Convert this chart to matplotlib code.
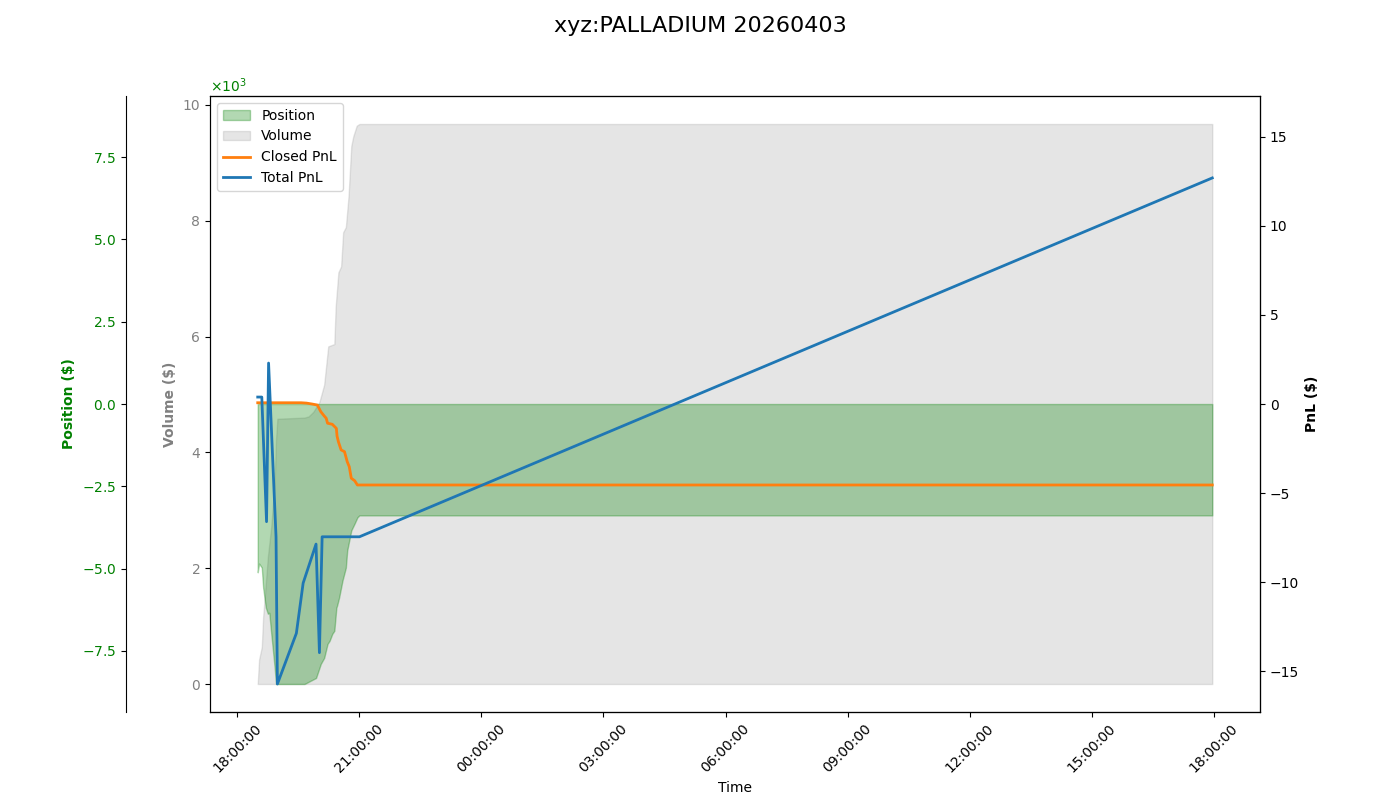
import datetime as dt
import numpy as np
import matplotlib
matplotlib.use('Agg')
import matplotlib.pyplot as plt
import matplotlib.dates as mdates

# series (times are HH:MM, session runs 18:00 -> 18:00)
vol_times = ['18:30', '18:32', '18:36', '18:38', '18:40', '18:45', '18:50',
             '18:55', '18:57', '18:59', '19:39', '19:45', '19:52', '20:01',
             '20:08', '20:14', '20:23', '20:25', '20:29', '20:33', '20:36',
             '20:40', '20:44', '20:48', '20:51', '20:56', '21:00', '17:58']
volume = [0.0, 0.42, 0.64, 1.16, 1.45, 2.20, 2.72, 3.48, 4.22, 4.58, 4.60,
          4.62, 4.70, 4.87, 5.17, 5.83, 5.87, 6.52, 7.11, 7.21, 7.80, 7.89,
          8.43, 9.29, 9.46, 9.64, 9.67, 9.67]

pos_times = ['18:30', '18:32', '18:36', '18:38', '18:42', '18:45', '18:47',
             '18:50', '18:55', '18:57', '19:39', '19:56', '20:03', '20:08',
             '20:13', '20:16', '20:20', '20:23', '20:26', '20:27', '20:30',
             '20:35', '20:40', '20:42', '20:48', '20:53', '20:57', '21:00',
             '17:58']
position = [-5113, -4848, -4970, -5579, -6189, -6372, -6341, -6982, -8018,
            -8506, -8506, -8323, -7896, -7713, -7287, -7195, -6982, -6890,
            -6189, -6130, -5884, -5366, -4970, -4451, -3841, -3628, -3445,
            -3384, -3384]

closed_times = ['18:30', '19:34', '19:42', '19:50', '19:58', '20:03', '20:08',
                '20:11', '20:13', '20:20', '20:26', '20:27', '20:29', '20:33',
                '20:38', '20:42', '20:45', '20:48', '20:53', '20:57', '17:58']
closed_pnl = [0.07, 0.07, 0.05, 0.0, -0.06, -0.43, -0.67, -0.80, -1.08,
              -1.14, -1.37, -1.80, -2.12, -2.58, -2.68, -3.24, -3.52, -4.17,
              -4.31, -4.55, -4.55]

total_times = ['18:30', '18:36', '18:43', '18:46', '18:57', '18:59', '19:27',
               '19:37', '19:56', '20:01', '20:05', '21:00', '17:58']
total_pnl = [0.39, 0.39, -6.61, 2.30, -7.47, -15.73, -12.88, -10.06, -7.87,
             -13.97, -7.46, -7.46, 12.70]


def to_dt(times):
    out = []
    for t in times:
        h, m = map(int, t.split(':'))
        day = 2 if h >= 18 else 3
        out.append(dt.datetime(2026, 4, day, h, m))
    return out


fig, ax_vol = plt.subplots(figsize=(14, 8), dpi=100)
fig.subplots_adjust(left=0.15)
ax_pos = ax_vol.twinx()
ax_pnl = ax_vol.twinx()

ax_pos.spines['left'].set_position(('axes', -0.08))
ax_pos.spines['left'].set_visible(True)
ax_pos.yaxis.set_label_position('left')
ax_pos.yaxis.set_ticks_position('left')

ax_vol.fill_between(to_dt(vol_times), 0, volume, color='gray', alpha=0.2,
                    label='Volume')
ax_pos.fill_between(to_dt(pos_times), 0, position, color='green', alpha=0.3,
                    label='Position')
ax_pnl.plot(to_dt(closed_times), closed_pnl, color='tab:orange', lw=2,
            label='Closed PnL')
ax_pnl.plot(to_dt(total_times), total_pnl, color='tab:blue', lw=2,
            label='Total PnL')

plim = np.max(np.abs(position)) * 1.1
ax_pos.set_ylim(-plim, plim)
qlim = max(np.max(np.abs(closed_pnl)), np.max(np.abs(total_pnl))) * 1.1
ax_pnl.set_ylim(-qlim, qlim)

ax_pos.ticklabel_format(axis='y', style='sci', scilimits=(0, 0),
                        useMathText=True)
ax_pos.tick_params(axis='y', labelcolor='green')
ax_pos.yaxis.get_offset_text().set_color('green')
ax_pos.set_ylabel('Position ($)', color='green', fontweight='bold')

ax_vol.tick_params(axis='y', labelcolor='gray')
ax_vol.set_ylabel('Volume ($)', color='gray', fontweight='bold')
ax_pnl.set_ylabel('PnL ($)', color='black', fontweight='bold')

ax_vol.xaxis.set_major_locator(mdates.HourLocator(byhour=range(0, 24, 3)))
ax_vol.xaxis.set_major_formatter(mdates.DateFormatter('%H:%M:%S'))
for lbl in ax_vol.get_xticklabels():
    lbl.set_rotation(45)
ax_vol.set_xlabel('Time')

handles, labels = [], []
for ax in (ax_pos, ax_vol, ax_pnl):
    h, l = ax.get_legend_handles_labels()
    handles += h
    labels += l
ax_pnl.legend(handles, labels, loc='upper left')

fig.suptitle('xyz:PALLADIUM 20260403', fontsize=16)
fig.savefig('out.png')
